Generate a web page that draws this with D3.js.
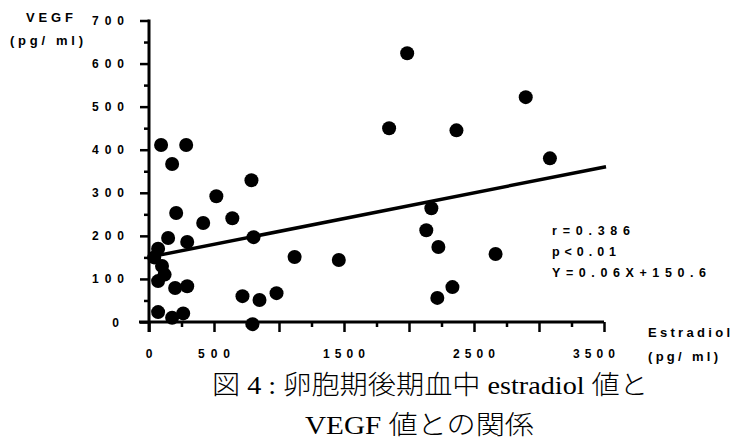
<!DOCTYPE html>
<html><head><meta charset="utf-8">
<script src="https://cdn.jsdelivr.net/npm/d3@7"></script>
<style>body{margin:0;background:#fff}svg{display:block}</style>
</head><body>
<svg id="c" width="749" height="443"></svg>
<script>
const estradiol = [93,286,178,788,518,209,417,641,804,1120,1460,719,850,981,796,
  147,294,70,40,100,120,70,201,294,70,178,263,
  1986,1847,2365,2898,3084,2172,2133,2226,2666,2334,2218];
const vegf = [411,411,367,329,292,253,230,241,197,151,144,60,51,67,-5,
  195,186,170,150,130,110,95,79,83,23,10,20,
  624,450,445,522,380,264,213,174,158,81,56];
const yTicks = [0,100,200,300,400,500,600,700];
const xTickLabels = [0,500,1500,2500,3500];
const slope = 0.06, intercept = 150.6;
const stats = ["r=0.386","p<0.01","Y=0.06X+150.6"];

const svg = d3.select("#c");
const x = d3.scaleLinear().domain([0,3500]).range([149,604]);
const y = d3.scaleLinear().domain([0,700]).range([322,20.5]);
const font = "Arial, 'Liberation Sans', sans-serif";

// y axis
const ya = svg.append("g").attr("transform",`translate(${x(0)},0)`)
  .call(d3.axisLeft(y).tickValues(d3.range(0,701,50)).tickSizeOuter(0).tickSizeInner(9).tickFormat(""));
ya.select(".domain").attr("stroke","#000").attr("stroke-width",3)
  .attr("d",`M0,${y(700)-1}V${y(0)+10}`);
ya.selectAll(".tick line").attr("x2",d=>d%100===0?-9:-5).attr("stroke","#000").attr("stroke-width",2.5);
svg.append("g").selectAll("text").data(yTicks).join("text")
  .attr("x",d=>d===0?119:124).attr("y",d=>y(d)+4.5).attr("text-anchor","end")
  .attr("font-family",font).attr("font-weight","bold").attr("font-size",12)
  .attr("textLength",d=>String(d).length===1?8:32).attr("lengthAdjust","spacing").text(d=>d);

// x axis
const xa = svg.append("g").attr("transform",`translate(0,${y(0)})`)
  .call(d3.axisBottom(x).tickValues(d3.range(0,3501,250)).tickSizeOuter(0).tickSizeInner(10).tickFormat(""));
xa.select(".domain").attr("stroke","#000").attr("stroke-width",3)
  .attr("d",`M${x(0)-10},0H${x(3500)}`);
xa.selectAll(".tick line").attr("y2",d=>d%500===0?10:5).attr("stroke","#000").attr("stroke-width",2.5);
svg.append("g").selectAll("text").data(xTickLabels).join("text")
  .attr("x",d=>x(d)-(d===3500?10:0)).attr("y",358).attr("text-anchor","middle")
  .attr("font-family",font).attr("font-weight","bold").attr("font-size",12)
  .attr("textLength",d=>String(d).length*10+(String(d).length>1?2:-2)).attr("lengthAdjust","spacing").text(d=>d);

// regression line
svg.append("line")
  .attr("x1",x(0)).attr("y1",y(intercept))
  .attr("x2",x(3500)+2).attr("y2",y(intercept+slope*3500))
  .attr("stroke","#000").attr("stroke-width",3.5);

// points
svg.append("g").selectAll("circle").data(estradiol.map((e,i)=>[e,vegf[i]])).join("circle")
  .attr("cx",d=>x(d[0])).attr("cy",d=>y(d[1])).attr("r",7).attr("fill","#000");

// axis titles
const t = (txt,xx,yy,len,size=13)=>svg.append("text").attr("x",xx).attr("y",yy)
  .attr("font-family",font).attr("font-weight","bold")
  .attr("font-size",size).attr("textLength",len).attr("lengthAdjust","spacing").text(txt);
t("VEGF",26,22,47);
t("(pg/ ml)",10,45,73);
t("Estradiol",648,337,82);
t("(pg/ ml)",648,361,70);
stats.forEach((s,i)=>t(s,552,235+i*21,[78,64,154][i],12.5));

// caption
const capFont = "'Liberation Serif', 'Noto Sans CJK JP', serif";
svg.append("text").attr("x",212).attr("y",394).attr("font-family",capFont)
  .attr("font-weight",300).attr("font-size",26).attr("textLength",436).attr("lengthAdjust","spacingAndGlyphs")
  .text("図 4 : 卵胞期後期血中 estradiol 値と");
svg.append("text").attr("x",305).attr("y",434).attr("font-family",capFont)
  .attr("font-weight",300).attr("font-size",26).attr("textLength",229).attr("lengthAdjust","spacingAndGlyphs")
  .text("VEGF 値との関係");
</script>
</body></html>
